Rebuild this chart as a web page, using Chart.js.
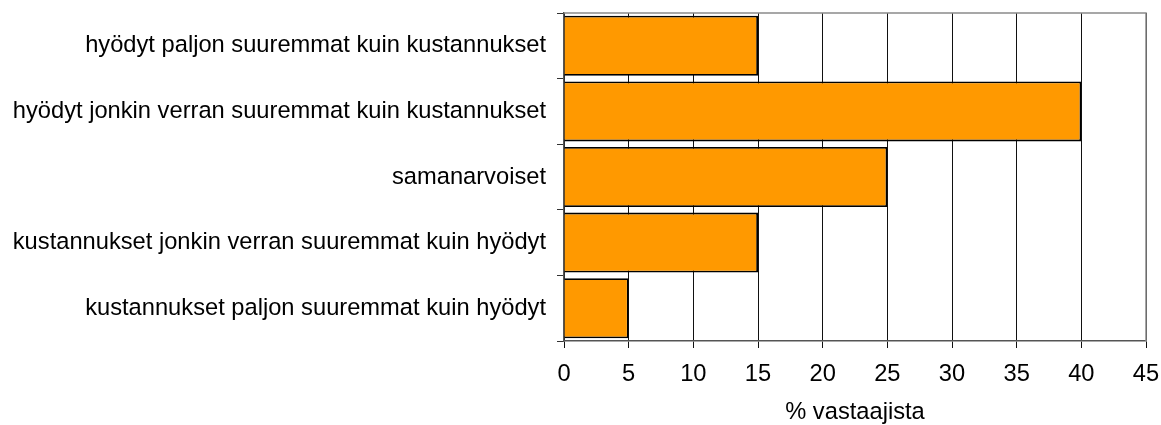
<!DOCTYPE html>
<html><head><meta charset="utf-8">
<script src="https://cdn.jsdelivr.net/npm/chart.js@4/dist/chart.umd.min.js"></script>
<style>html,body{margin:0;padding:0;background:#fff}#wrap{width:1161px;height:425px}</style>
</head><body><div id="wrap"><canvas id="c" width="1161" height="425"></canvas></div>
<script>
const categories = [
  "hyödyt paljon suuremmat kuin kustannukset",
  "hyödyt jonkin verran suuremmat kuin kustannukset",
  "samanarvoiset",
  "kustannukset jonkin verran suuremmat kuin hyödyt",
  "kustannukset paljon suuremmat kuin hyödyt"
];
const values = [15, 40, 25, 15, 5];
const xTicks = [0, 5, 10, 15, 20, 25, 30, 35, 40, 45];
const xTitle = "% vastaajista";

const frame = {
  id: 'frame',
  beforeDatasetsDraw(chart) {
    const {ctx, chartArea: a} = chart;
    ctx.save();
    ctx.strokeStyle = '#8a8a8a';
    ctx.lineWidth = 1.5;
    ctx.beginPath();
    ctx.moveTo(a.left, a.top); ctx.lineTo(a.right, a.top); ctx.lineTo(a.right, a.bottom);
    ctx.stroke();
    ctx.restore();
  }
};

new Chart(document.getElementById('c'), {
  type: 'bar',
  data: { labels: categories, datasets: [{ data: values, backgroundColor: '#FF9900', borderColor: '#000', borderWidth: 1.8, barPercentage: 0.915, categoryPercentage: 1 }] },
  options: {
    indexAxis: 'y', responsive: false, animation: false,
    layout: { padding: { top: 13, right: 15, left: 0, bottom: 0 } },
    plugins: { legend: { display: false }, tooltip: { enabled: false } },
    scales: {
      x: {
        min: 0, max: 45,
        afterBuildTicks(s) { s.ticks = xTicks.map(v => ({ value: v })); },
        afterFit(s) { s.height = 84; s.paddingLeft = 0; s.paddingRight = 0; },
        grid: { color: '#111', lineWidth: 1, tickLength: 7, drawTicks: true },
        border: { color: '#555', width: 1.5 },
        ticks: { color: '#000', font: { family: 'Liberation Sans', size: 23.7 }, padding: 12, maxRotation: 0 },
        title: { display: true, text: xTitle, color: '#000', font: { family: 'Liberation Sans', size: 23.7 }, padding: { top: 0, bottom: -2 } }
      },
      y: {
        afterFit(s) { s.width = 564; s.paddingTop = 0; s.paddingBottom = 0; },
        grid: { offset: true, drawOnChartArea: false, tickLength: 7, color: '#333' },
        border: { color: '#555', width: 1.5 },
        ticks: { color: '#000', font: { family: 'Liberation Sans', size: 23.7 }, padding: 11 }
      }
    }
  },
  plugins: [frame]
});
</script></body></html>
